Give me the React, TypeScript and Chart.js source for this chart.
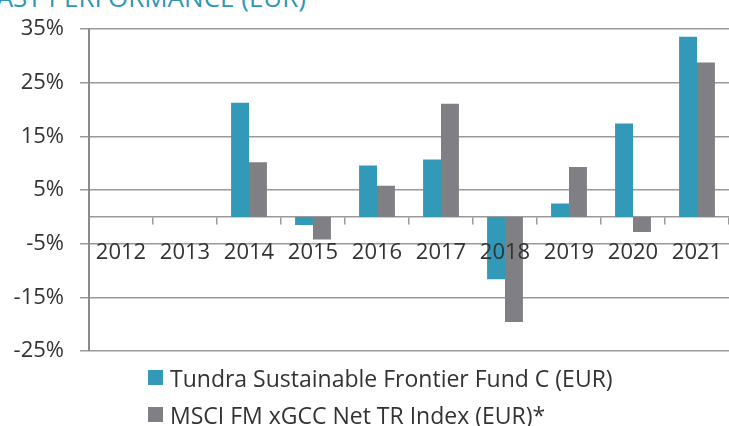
import React, { useEffect, useRef } from "react";
import { Chart, registerables } from "chart.js";

Chart.register(...registerables);

const years = ["2012", "2013", "2014", "2015", "2016", "2017", "2018", "2019", "2020", "2021"];
const fundValues: (number | null)[] = [null, null, 21.3, -1.5, 9.6, 10.7, -11.6, 2.5, 17.4, 33.6];
const indexValues: (number | null)[] = [null, null, 10.2, -4.2, 5.8, 21.1, -19.6, 9.3, -2.8, 28.8];
const yTicks = [-25, -15, -5, 5, 15, 25, 35];
const fundLabel = "Tundra Sustainable Frontier Fund C (EUR)";
const indexLabel = "MSCI FM xGCC Net TR Index (EUR)*";
const titleText = "PAST PERFORMANCE (EUR)";

const TEAL = "#3399b8";
const GRAY = "#808084";
const FONT = "'Open Sans', sans-serif";
const TEXT = "#333333";

export default function App() {
  const canvasRef = useRef<HTMLCanvasElement | null>(null);

  useEffect(() => {
    document.body.style.margin = "0";
    const canvas = canvasRef.current;
    if (!canvas) return;
    const chart = new Chart(canvas, {
      type: "bar",
      data: {
        labels: years,
        datasets: [
          { label: fundLabel, data: fundValues, backgroundColor: TEAL, categoryPercentage: 0.56, barPercentage: 1 },
          { label: indexLabel, data: indexValues, backgroundColor: GRAY, categoryPercentage: 0.56, barPercentage: 1 },
        ],
      },
      options: {
        responsive: false,
        animation: false,
        devicePixelRatio: 1,
        layout: { padding: { top: 27, bottom: 75, left: 0, right: 0 } },
        plugins: { legend: { display: false }, tooltip: { enabled: false }, title: { display: false } },
        scales: {
          x: {
            type: "category",
            position: { y: 0 } as any,
            offset: true,
            afterFit: (scale: any) => {
              scale.paddingLeft = 0;
              scale.paddingRight = 0;
            },
            grid: { display: true, drawOnChartArea: false, drawTicks: true, tickLength: 7, offset: true, color: "#9a9a9a", lineWidth: 1.5 },
            border: { display: true, color: "#9a9a9a", width: 1.5 },
            ticks: { font: { family: FONT, size: 22 }, color: TEXT, padding: 16, maxRotation: 0, autoSkip: false, z: 1 } as any,
          },
          y: {
            type: "linear",
            min: yTicks[0],
            max: yTicks[yTicks.length - 1],
            afterBuildTicks: (scale: any) => {
              scale.ticks = yTicks.map((v) => ({ value: v }));
            },
            afterFit: (scale: any) => {
              scale.width = 89;
            },
            grid: { color: "#999999", lineWidth: 1.5, tickLength: 9, drawTicks: true },
            border: { display: true, color: "#8a8a8a", width: 2 },
            ticks: {
              font: { family: FONT, size: 22 },
              color: TEXT,
              padding: 16,
              callback: (v: any) => `${v}%`,
            },
          },
        },
      },
    });
    return () => chart.destroy();
  }, []);

  const legendRow = (color: string, label: string) => (
    <div style={{ display: "flex", alignItems: "center", height: 37 }}>
      <span style={{ display: "inline-block", width: 15, height: 15, background: color, marginRight: 7 }} />
      <span>{label}</span>
    </div>
  );

  return (
    <div style={{ position: "fixed", left: 0, top: 0, width: 729, height: 426, background: "#fff", overflow: "hidden" }}>
      <div
        style={{
          position: "absolute",
          left: -19,
          top: -21,
          fontFamily: FONT,
          fontSize: 26,
          color: "#2f96b6",
          whiteSpace: "nowrap",
        }}
      >
        {titleText}
      </div>
      <canvas ref={canvasRef} width={729} height={426} style={{ position: "absolute", left: 0, top: 0, width: 729, height: 426 }} />
      <div
        style={{
          position: "absolute",
          left: 148,
          top: 359,
          fontFamily: FONT,
          fontSize: 23,
          color: TEXT,
          whiteSpace: "nowrap",
        }}
      >
        {legendRow(TEAL, fundLabel)}
        {legendRow(GRAY, indexLabel)}
      </div>
    </div>
  );
}
